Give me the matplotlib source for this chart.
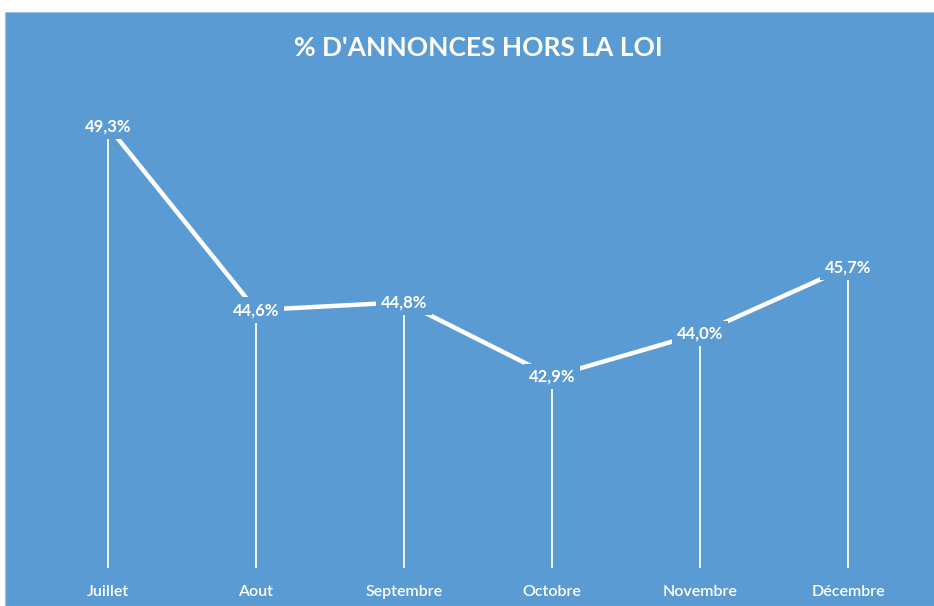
import matplotlib.pyplot as plt
from matplotlib.patches import Rectangle

# data
mois = ['Juillet', 'Aout', 'Septembre', 'Octobre', 'Novembre', 'Décembre']
pct = [49.3, 44.6, 44.8, 42.9, 44.0, 45.7]
etiquettes = ['49,3%', '44,6%', '44,8%', '42,9%', '44,0%', '45,7%']

bleu = '#5A9BD3'
plt.rcParams['font.family'] = ['Lato', 'DejaVu Sans']

fig = plt.figure(figsize=(9.34, 6.06), dpi=100)
fig.patch.set_facecolor('white')
# blue chart area, leaving a thin white margin top/left
fig.add_artist(Rectangle((5 / 934, 0), 1, 1 - 12 / 606, transform=fig.transFigure,
                         facecolor=bleu, edgecolor='#9cc3e6', linewidth=0.8, zorder=0))

ax = fig.add_axes([108 / 934, 38 / 606, 740 / 934, 469 / 606])
ax.set_facecolor('none')
x = list(range(len(mois)))
ax.set_xlim(0, 5)
ax.set_ylim(38, 50)

ax.vlines(x, 38, pct, color='white', linewidth=1.3, zorder=2, clip_on=False)
ax.plot(x, pct, color='white', linewidth=3.2, zorder=3, clip_on=False,
        solid_capstyle='butt')

for xi, v, lab in zip(x, pct, etiquettes):
    ax.text(xi, v, lab, ha='center', va='center', color='white', fontsize=12,
            fontweight='bold', zorder=5,
            bbox=dict(facecolor=bleu, edgecolor='none', pad=3.5))

ax.set_xticks(x)
ax.set_xticklabels(mois, color='white', fontsize=11.5, fontweight='semibold')
ax.tick_params(axis='x', length=0, pad=12)
ax.set_yticks([])
for s in ax.spines.values():
    s.set_visible(False)

fig.text(478 / 934, 1 - 48 / 606, "% D'ANNONCES HORS LA LOI", ha='center', va='center',
         color='white', fontsize=19, fontweight='bold')

fig.savefig('out.png', dpi=100, facecolor=fig.get_facecolor())
